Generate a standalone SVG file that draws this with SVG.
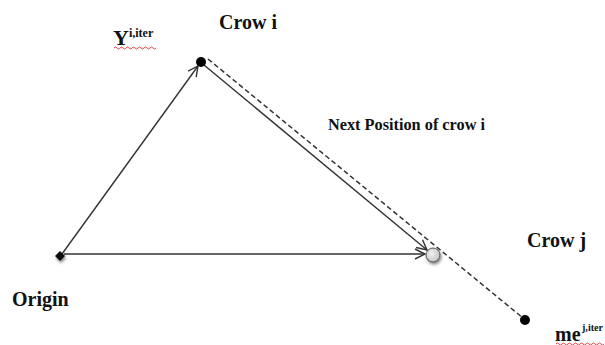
<svg xmlns="http://www.w3.org/2000/svg" width="605" height="345" viewBox="0 0 605 345">
<style>
.lbl{font-family:"Liberation Serif","Times New Roman",serif;font-weight:bold;fill:#111}
.edge{stroke:#333;stroke-width:1.4;fill:none}
.dash{stroke:#333;stroke-width:1.5;fill:none;stroke-dasharray:5 3}
.wavy{stroke:#e03030;stroke-width:0.9;fill:none}
</style>
<defs>
<marker id="arr" viewBox="0 0 12 12" refX="11" refY="6" markerWidth="12" markerHeight="12" markerUnits="userSpaceOnUse" orient="auto">
<path d="M1,1 L11,6 L1,11" fill="none" stroke="#333" stroke-width="1.4"/>
</marker>
<radialGradient id="gg" cx="0.4" cy="0.4" r="0.7">
<stop offset="0" stop-color="#f2f2f2"/>
<stop offset="1" stop-color="#bdbdbd"/>
</radialGradient>
<filter id="sh" x="-50%" y="-50%" width="200%" height="200%">
<feGaussianBlur in="SourceAlpha" stdDeviation="1.5"/>
<feOffset dx="1" dy="1.5" result="b"/>
<feComponentTransfer><feFuncA type="linear" slope="0.5"/></feComponentTransfer>
<feMerge><feMergeNode/><feMergeNode in="SourceGraphic"/></feMerge>
</filter>
</defs>
<rect width="605" height="345" fill="#fff"/>
<g id="connectors">
<line class="edge" x1="62" y1="254" x2="198" y2="66" marker-end="url(#arr)"/>
<line class="edge" x1="204" y1="65" x2="427" y2="250" marker-end="url(#arr)"/>
<line class="edge" x1="64" y1="254" x2="425" y2="254" marker-end="url(#arr)"/>
<line class="dash" x1="208" y1="59" x2="523" y2="318"/>
</g>
<g id="origin">
<path d="M60,251 L65,256 L60,261 L55,256 Z" fill="#111" filter="url(#sh)"/>
<text class="lbl" x="12" y="306" font-size="20">Origin</text>
</g>
<g id="crow-i">
<circle cx="201" cy="62" r="5" fill="#000"/>
<text class="lbl" x="219" y="29" font-size="20">Crow i</text>
</g>
<g id="y-label">
<text class="lbl" x="113" y="45" font-size="22">Y<tspan font-size="12" dy="-8">i,iter</tspan></text>
<path class="wavy" d="M114,48 q1.5,-2 3,0 t3,0 t3,0 t3,0 t3,0 t3,0 t3,0 t3,0 t3,0 t3,0 t3,0 t3,0 t3,0 t3,0"/>
</g>
<g id="next-position">
<circle cx="433" cy="255" r="7" fill="url(#gg)" stroke="#555" stroke-width="1" filter="url(#sh)"/>
<text class="lbl" x="328" y="130" font-size="16" textLength="157" lengthAdjust="spacingAndGlyphs">Next Position of crow i</text>
</g>
<g id="crow-j">
<circle cx="525" cy="320" r="5" fill="#000"/>
<text class="lbl" x="527" y="247" font-size="20">Crow j</text>
</g>
<g id="me-label">
<text class="lbl" x="555" y="341" font-size="20">me</text>
<text class="lbl" x="582" y="331" font-size="11" textLength="21" lengthAdjust="spacingAndGlyphs">j,iter</text>
<path class="wavy" d="M556,344 q1.5,-2 3,0 t3,0 t3,0 t3,0 t3,0 t3,0 t3,0 t3,0 t3,0 t3,0 t3,0 t3,0 t3,0 t3,0 t3,0 t3,0"/>
</g>
</svg>
